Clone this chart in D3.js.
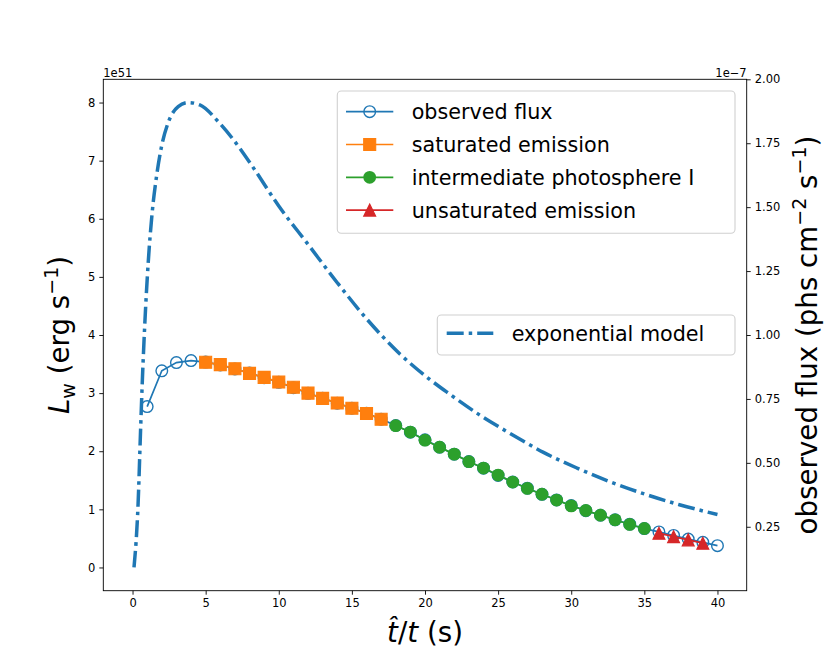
<!DOCTYPE html>
<html>
<head>
<meta charset="utf-8">
<script src="https://cdn.jsdelivr.net/npm/d3@7/dist/d3.min.js"></script>
<style>
  body { margin: 0; background: #fff; }
  text { font-family: "DejaVu Sans", sans-serif; fill: #000; }
</style>
</head>
<body>
<div id="chart"></div>
<script>
// observed flux (right axis, units of 1e-7)
var obsT = [1,2,3,4,5,6,7,8,9,10,11,12,13,14,15,16,17,18,19,20,
            21,22,23,24,25,26,27,28,29,30,31,32,33,34,35,36,37,38,39,40];
var obsFlux = [0.720,0.860,0.892,0.900,0.894,0.883,0.867,0.851,0.833,0.815,
               0.794,0.772,0.753,0.733,0.714,0.694,0.671,0.646,0.620,0.590,
               0.561,0.534,0.505,0.479,0.451,0.425,0.401,0.377,0.355,0.333,
               0.313,0.295,0.277,0.260,0.243,0.230,0.216,0.202,0.189,0.176];

// emission phases (left axis, units of 1e51)
var satT = [5,6,7,8,9,10,11,12,13,14,15,16,17];
var satL = [3.53,3.49,3.42,3.34,3.27,3.19,3.10,3.00,2.91,2.83,2.74,2.65,2.55];
var intT = [18,19,20,21,22,23,24,25,26,27,28,29,30,31,32,33,34,35];
var intL = [2.44,2.33,2.19,2.07,1.95,1.82,1.71,1.59,1.47,1.36,1.26,1.16,1.06,0.98,0.90,0.82,0.74,0.67];
var unsatT = [36,37,38,39];
var unsatL = [0.59,0.53,0.475,0.418];

// exponential model curve
var modelT = [0.1,0.38,0.55,0.68,0.84,1.07,1.34,1.64,1.98,2.43,3.12,3.8,4.6,5.9,6.9,8.2,
              10,12,14,16,18.3,20.3,21.7,23.7,26,28.1,30.4,32.6,35,37.4,40];
var modelL = [0,1.10,2.37,3.28,4.20,5.24,6.10,6.73,7.24,7.65,7.93,8.00,7.96,7.66,7.36,6.90,
              6.22,5.56,4.90,4.28,3.67,3.24,2.98,2.63,2.28,1.98,1.71,1.48,1.265,1.08,0.91];

var xTicks = [0,5,10,15,20,25,30,35,40];
var leftTicks = [0,1,2,3,4,5,6,7,8];
var rightTicks = [0.25,0.50,0.75,1.00,1.25,1.50,1.75,2.00];

var C = {blue: "#1f77b4", orange: "#ff7f0e", green: "#2ca02c", red: "#d62728"};

var margin = {top: 79.3, right: 83.3, bottom: 73.3, left: 103.3},
  width = 830 - margin.left - margin.right,
  height = 664 - margin.top - margin.bottom;

var svg = d3.select("#chart").append("svg")
  .attr("width", 830).attr("height", 664);

var g = svg.append("g")
  .attr("transform", "translate(" + margin.left + "," + margin.top + ")");

var x = d3.scaleLinear().domain([-2, 42]).range([0, width]);
var yL = d3.scaleLinear().domain([-0.4, 8.4]).range([height, 0]);
var yR = d3.scaleLinear().domain([0, 2.0]).range([height, 0]);

function styleAxis(sel) {
  sel.select(".domain").remove();
  sel.selectAll(".tick line").attr("stroke", "#000").attr("stroke-width", 0.9);
  sel.selectAll(".tick text").style("font-size", "11.5px")
    .style("font-family", "DejaVu Sans, sans-serif").attr("fill", "#000");
}

g.append("g")
  .attr("transform", "translate(0," + height + ")")
  .call(d3.axisBottom(x).tickValues(xTicks).tickSize(4).tickPadding(4).tickSizeOuter(0))
  .call(styleAxis);

g.append("g")
  .call(d3.axisLeft(yL).tickValues(leftTicks).tickSize(4).tickPadding(4).tickSizeOuter(0))
  .call(styleAxis);

g.append("g")
  .attr("transform", "translate(" + width + ",0)")
  .call(d3.axisRight(yR).tickValues(rightTicks).tickFormat(d3.format(".2f"))
    .tickSize(4).tickPadding(4).tickSizeOuter(0))
  .call(styleAxis);

var plot = g.append("g");

// observed flux underneath everything
var obsData = obsT.map(function(t, i) { return [t, obsFlux[i]]; });
plot.append("path")
  .datum(obsData)
  .attr("fill", "none").attr("stroke", C.blue).attr("stroke-width", 1.7)
  .attr("d", d3.line().x(d => x(d[0])).y(d => yR(d[1])));
plot.selectAll(".obs")
  .data(obsData).enter().append("circle")
  .attr("class", "obs")
  .attr("cx", d => x(d[0])).attr("cy", d => yR(d[1]))
  .attr("r", 5.8)
  .attr("fill", "none").attr("stroke", C.blue).attr("stroke-width", 1.4);

var square = d3.symbol().type(d3.symbolSquare).size(144);
var triUp = "M0,-6L6,6L-6,6Z";

function phase(ts, vals, color, shape) {
  var data = ts.map(function(t, i) { return [t, vals[i]]; });
  plot.append("path")
    .datum(data)
    .attr("fill", "none").attr("stroke", color).attr("stroke-width", 1.7)
    .attr("d", d3.line().x(d => x(d[0])).y(d => yL(d[1])));
  var pts = plot.append("g").selectAll("path")
    .data(data).enter();
  if (shape == "circle") {
    pts.append("circle")
      .attr("cx", d => x(d[0])).attr("cy", d => yL(d[1])).attr("r", 6.4)
      .attr("fill", color);
  } else {
    pts.append("path")
      .attr("transform", d => "translate(" + x(d[0]) + "," + yL(d[1]) + ")")
      .attr("d", shape == "square" ? square() : triUp)
      .attr("fill", color).attr("stroke", color).attr("stroke-width", 1.1);
  }
}
phase(satT, satL, C.orange, "square");
phase(intT, intL, C.green, "circle");
phase(unsatT, unsatL, C.red, "triangle");

// model curve
plot.append("path")
  .datum(modelT.map(function(t, i) { return [t, modelL[i]]; }))
  .attr("fill", "none").attr("stroke", C.blue).attr("stroke-width", 3.5)
  .attr("stroke-dasharray", "17,5,3.5,5")
  .attr("d", d3.line().curve(d3.curveMonotoneX).x(d => x(d[0])).y(d => yL(d[1])));

// frame
g.append("rect")
  .attr("width", width).attr("height", height)
  .attr("fill", "none").attr("stroke", "#000").attr("stroke-width", 0.9);

// offset texts
svg.append("text").attr("x", margin.left).attr("y", 76.5)
  .style("font-size", "11.5px").text("1e51");
svg.append("text").attr("x", margin.left + width).attr("y", 76.5)
  .attr("text-anchor", "end").style("font-size", "11.5px").text("1e\u22127");

// axis labels
var xl = svg.append("text")
  .attr("x", margin.left + width / 2).attr("y", 642)
  .attr("text-anchor", "middle").style("font-size", "27.7px");
xl.append("tspan").style("font-style", "italic").text("t\u0302");
xl.append("tspan").text("/");
xl.append("tspan").style("font-style", "italic").text("t");
xl.append("tspan").text(" (s)");

var ylab = svg.append("text")
  .attr("transform", "translate(69," + (margin.top + height / 2) + ") rotate(-90)")
  .attr("text-anchor", "middle").style("font-size", "27.7px");
ylab.append("tspan").style("font-style", "italic").text("L");
ylab.append("tspan").attr("dy", 6).style("font-size", "19px").text("w");
ylab.append("tspan").attr("dy", -6).text(" (erg s");
ylab.append("tspan").attr("dy", -11).style("font-size", "19px").text("\u22121");
ylab.append("tspan").attr("dy", 11).text(")");

var rlab = svg.append("text")
  .attr("transform", "translate(816.7," + (margin.top + height / 2) + ") rotate(-90)")
  .attr("text-anchor", "middle").style("font-size", "27.7px");
rlab.append("tspan").text("observed flux (phs cm");
rlab.append("tspan").attr("dy", -11).style("font-size", "19px").text("\u22122");
rlab.append("tspan").attr("dy", 11).text(" s");
rlab.append("tspan").attr("dy", -11).style("font-size", "19px").text("\u22121");
rlab.append("tspan").attr("dy", 11).text(")");

// legends
var legendItems = [
  {label: "observed flux", color: C.blue, shape: "open"},
  {label: "saturated emission", color: C.orange, shape: "square"},
  {label: "intermediate photosphere I", color: C.green, shape: "circle"},
  {label: "unsaturated emission", color: C.red, shape: "triangle"}
];

svg.append("rect")
  .attr("x", 337.3).attr("y", 91).attr("width", 397.7).attr("height", 142.3)
  .attr("rx", 4).attr("fill", "#fff").attr("fill-opacity", 0.8)
  .attr("stroke", "#d0d0d0").attr("stroke-width", 1.1);

var rows = svg.selectAll(".leg").data(legendItems).enter().append("g")
  .attr("class", "leg")
  .attr("transform", (d, i) => "translate(346," + (111.7 + i * 32.8) + ")");
rows.append("line").attr("x1", 0).attr("x2", 47.3)
  .attr("stroke", d => d.color).attr("stroke-width", 1.7);
rows.each(function(d) {
  var r = d3.select(this);
  if (d.shape == "open") {
    r.append("circle").attr("cx", 23.7).attr("r", 5.8).attr("fill", "none")
      .attr("stroke", d.color).attr("stroke-width", 1.4);
  } else if (d.shape == "circle") {
    r.append("circle").attr("cx", 23.7).attr("r", 6.4).attr("fill", d.color);
  } else {
    r.append("path").attr("transform", "translate(23.7,0)")
      .attr("d", d.shape == "square" ? square() : triUp)
      .attr("fill", d.color).attr("stroke", d.color).attr("stroke-width", 1.1);
  }
});
rows.append("text").attr("x", 65.7).attr("y", 7.5)
  .style("font-size", "20.7px").text(d => d.label);

svg.append("rect")
  .attr("x", 437.3).attr("y", 315).attr("width", 297.7).attr("height", 40)
  .attr("rx", 4).attr("fill", "#fff").attr("fill-opacity", 0.8)
  .attr("stroke", "#d0d0d0").attr("stroke-width", 1.1);
svg.append("line")
  .attr("x1", 446.7).attr("x2", 493.3).attr("y1", 333.3).attr("y2", 333.3)
  .attr("stroke", C.blue).attr("stroke-width", 3.5)
  .attr("stroke-dasharray", "17,5,3.5,5");
svg.append("text").attr("x", 511.7).attr("y", 340.8)
  .style("font-size", "20.7px").text("exponential model");
</script>
</body>
</html>
